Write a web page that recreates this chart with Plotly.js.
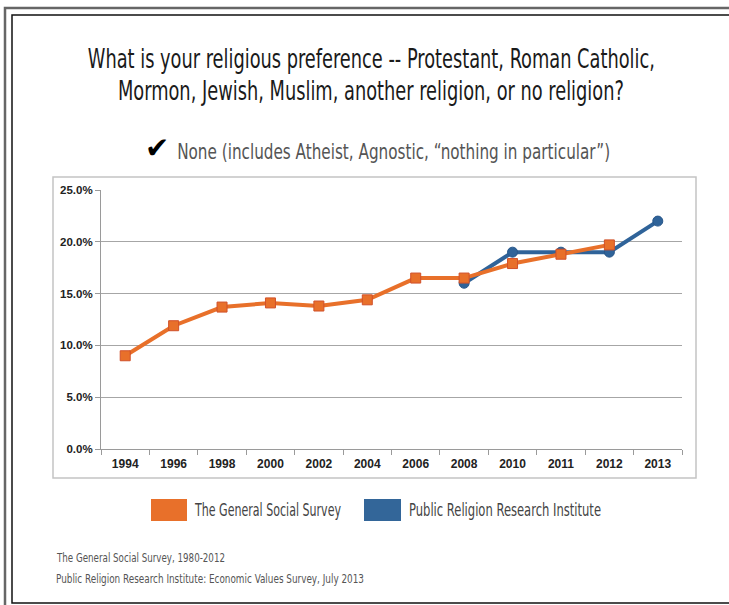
<!DOCTYPE html>
<html>
<head>
<meta charset="utf-8">
<script src="https://cdn.plot.ly/plotly-3.0.1.min.js"></script>
<style>
html, body { margin: 0; padding: 0; background: #fff; }
#chart { width: 729px; height: 605px; }
</style>
</head>
<body>
<div id="chart"></div>
<script>
// ---- data ----
const years = ['1994', '1996', '1998', '2000', '2002', '2004', '2006', '2008', '2010', '2011', '2012', '2013'];
const gssYears = ['1994', '1996', '1998', '2000', '2002', '2004', '2006', '2008', '2010', '2011', '2012'];
const gssValues = [9.0, 11.9, 13.7, 14.1, 13.8, 14.4, 16.5, 16.5, 17.9, 18.8, 19.7];
const prriYears = ['2008', '2010', '2011', '2012', '2013'];
const prriValues = [16.0, 19.0, 19.0, 19.0, 22.0];
const yTickValues = [0, 5, 10, 15, 20, 25];
const yTickLabels = ['0.0%', '5.0%', '10.0%', '15.0%', '20.0%', '25.0%'];
const seriesNames = ['The General Social Survey', 'Public Religion Research Institute'];
const titleLines = ['What is your religious preference -- Protestant, Roman Catholic,', 'Mormon, Jewish, Muslim, another religion, or no religion?'];
const subtitle = 'None (includes Atheist, Agnostic, \u201cnothing in particular\u201d)';
const sourceLines = ['The General Social Survey, 1980-2012', 'Public Religion Research Institute: Economic Values Survey, July 2013'];

// ---- styling ----
const ORANGE = '#E8702A';
const BLUE = '#2F6399';
const COND = '"Liberation Sans Narrow", "DejaVu Sans Condensed", "Roboto", sans-serif';

// plot area in pixels: x 101..682, y 190..449
const L = 101, R = 682, T = 190, B = 449;
const px = x => (x - L) / (R - L);
const py = y => (B - y) / (B - T);

const traces = [
  {
    x: prriYears, y: prriValues, type: 'scatter', mode: 'lines+markers', name: seriesNames[1],
    line: { color: BLUE, width: 4 },
    marker: { symbol: 'circle', size: 10, color: BLUE, line: { color: '#28578a', width: 1 } },
    cliponaxis: false
  },
  {
    x: gssYears, y: gssValues, type: 'scatter', mode: 'lines+markers', name: seriesNames[0],
    line: { color: ORANGE, width: 4 },
    marker: { symbol: 'square', size: 10, color: ORANGE, line: { color: '#d0502a', width: 1 } },
    cliponaxis: false
  }
];

const fitWidths = [];
const stretchY = [];
const annotations = [];
function addText(text, x, y, opts, fitW, sy) {
  annotations.push(Object.assign({
    text: text, xref: 'paper', yref: 'paper', x: px(x), y: py(y),
    showarrow: false, xanchor: 'center', yanchor: 'middle', align: 'center'
  }, opts));
  fitWidths.push(fitW || 0);
  stretchY.push(sy || 1);
}

addText(titleLines[0], 371.5, 59, { font: { family: COND, size: 21.5, color: '#1a1a1a' } }, 567, 1.23);
addText(titleLines[1], 371, 90, { font: { family: COND, size: 21.5, color: '#1a1a1a' } }, 506, 1.23);
addText('\u2714', 157, 148, { font: { family: 'DejaVu Sans', size: 29, color: '#000' } }, 0, 1);
addText(subtitle, 393.5, 152, { font: { family: COND, size: 21, color: '#555' } }, 433, 1);
addText(seriesNames[0], 192, 510, { xanchor: 'left', align: 'left', font: { family: COND, size: 17, color: '#444' } }, 146, 1);
addText(seriesNames[1], 407, 510, { xanchor: 'left', align: 'left', font: { family: COND, size: 17, color: '#444' } }, 192, 1);
addText(sourceLines[0], 54, 557, { xanchor: 'left', align: 'left', font: { family: COND, size: 13, color: '#555' } }, 168, 1);
addText(sourceLines[1], 54, 578, { xanchor: 'left', align: 'left', font: { family: COND, size: 13, color: '#555' } }, 308, 1);

const shapes = [
  // outer frames
  { type: 'rect', xref: 'paper', yref: 'paper', x0: px(5), x1: px(820), y0: py(8), y1: py(720), line: { color: '#666', width: 2.5 } },
  { type: 'rect', xref: 'paper', yref: 'paper', x0: px(12), x1: px(820), y0: py(15), y1: py(603), line: { color: '#111', width: 1.5 } },
  // chart box
  { type: 'rect', xref: 'paper', yref: 'paper', layer: 'below', x0: px(53), x1: px(696), y0: py(177), y1: py(478), line: { color: '#c4c4c4', width: 1.5 } },
  // legend swatches
  { type: 'rect', xref: 'paper', yref: 'paper', x0: px(151), x1: px(187), y0: py(499), y1: py(521), fillcolor: ORANGE, line: { width: 0 } },
  { type: 'rect', xref: 'paper', yref: 'paper', x0: px(364), x1: px(401), y0: py(499), y1: py(521), fillcolor: '#336699', line: { width: 0 } }
];

const layout = {
  width: 729, height: 605,
  margin: { l: L, r: 729 - R, t: T, b: 605 - B, pad: 0 },
  paper_bgcolor: '#fff', plot_bgcolor: '#fff',
  showlegend: false,
  xaxis: {
    type: 'category', categoryorder: 'array', categoryarray: years,
    range: [-0.5, years.length - 0.5],
    showgrid: false, zeroline: false,
    showline: true, linecolor: '#9a9a9a', linewidth: 1,
    ticks: 'outside', tickson: 'boundaries', ticklen: 5, tickcolor: '#9a9a9a',
    ticklabelstandoff: 4,
    tickfont: { family: 'Liberation Sans, Arial, sans-serif', size: 12, color: '#222', weight: 700 },
    fixedrange: true
  },
  yaxis: {
    range: [0, 25], tickvals: yTickValues, ticktext: yTickLabels,
    showgrid: true, gridcolor: '#a6a6a6', gridwidth: 1,
    zeroline: false, showline: true, linecolor: '#9a9a9a', linewidth: 1,
    ticks: 'outside', ticklen: 5, tickcolor: '#9a9a9a',
    tickfont: { family: 'Liberation Sans, Arial, sans-serif', size: 11.5, color: '#222', weight: 700 },
    fixedrange: true
  },
  shapes: shapes,
  annotations: annotations
};

const gd = document.getElementById('chart');
Plotly.newPlot(gd, traces, layout, { staticPlot: true, displayModeBar: false }).then(function () {
  gd.querySelectorAll('g.annotation').forEach(function (g) {
    const i = +g.getAttribute('data-index');
    const w = fitWidths[i];
    if (!w) return;
    const t = g.querySelector('text.annotation-text');
    if (!t) return;
    t.setAttribute('textLength', w);
    t.setAttribute('lengthAdjust', 'spacingAndGlyphs');
    if (stretchY[i] !== 1) {
      t.style.transformBox = 'fill-box';
      t.style.transformOrigin = 'center';
      t.style.transform = 'scaleY(' + stretchY[i] + ')';
    }
    const after = t.getBBox();
    const bg = g.querySelector('rect.bg');
    if (bg) {
      bg.setAttribute('x', after.x - 1);
      bg.setAttribute('width', after.width + 2);
    }
  });
});
</script>
</body>
</html>
